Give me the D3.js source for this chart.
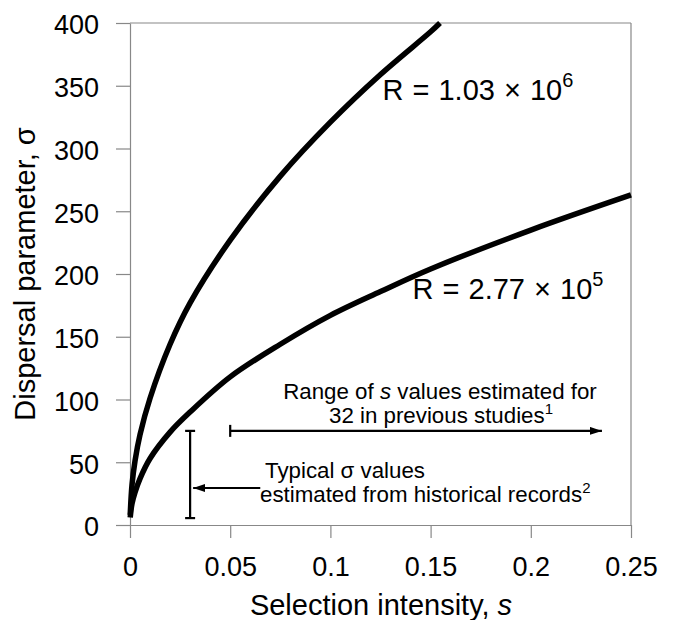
<!DOCTYPE html>
<html>
<head>
<meta charset="utf-8">
<script src="https://cdn.jsdelivr.net/npm/d3@7"></script>
<style>
  body { margin: 0; background: #fff; overflow: hidden; }
  svg { display: block; font-family: "Liberation Sans", Arial, Helvetica, sans-serif; }
</style>
</head>
<body>
<svg></svg>
<script>
// curve, R = 1.03 x 10^6
const sHigh = [0.0001, 0.001, 0.0025, 0.005, 0.01, 0.02, 0.03, 0.05, 0.075, 0.1, 0.125, 0.15, 0.1547];
const sigmaHigh = [8, 32, 51, 72, 101, 144, 177, 227, 278, 321, 359, 393, 400];

// curve, R = 2.77 x 10^5
const sLow = [0.0001, 0.001, 0.0025, 0.005, 0.01, 0.02, 0.03, 0.05, 0.075, 0.1, 0.125, 0.15, 0.2, 0.25];
const sigmaLow = [6, 17, 26, 37, 53, 74, 90, 118, 144, 167, 186, 204, 235, 263];

const xTicks = [0, 0.05, 0.1, 0.15, 0.2, 0.25];
const yTicks = [0, 50, 100, 150, 200, 250, 300, 350, 400];

// annotations
const typicalS = 0.03;
const typicalSigma = [5.5, 75];
const typicalArrowS = [0.065, 0.0315];
const typicalArrowSigma = 29.5;
const rangeS = [0.05, 0.2355];
const rangeSigma = 75;

const width = 676, height = 620;
const margin = { top: 23, right: 45, bottom: 95, left: 130 };
const innerWidth = width - margin.left - margin.right;
const innerHeight = height - margin.top - margin.bottom;

const svg = d3.select('svg').attr('width', width).attr('height', height);

const defs = svg.append('defs');
defs.append('marker').attr('id', 'head')
  .attr('viewBox', '0 0 12 8').attr('refX', 12).attr('refY', 4)
  .attr('markerWidth', 12).attr('markerHeight', 8)
  .attr('markerUnits', 'userSpaceOnUse').attr('orient', 'auto')
  .append('path').attr('d', 'M0,0L12,4L0,8Z').attr('fill', '#000');

const g = svg.append('g').attr('transform', `translate(${margin.left},${margin.top})`);

const x = d3.scaleLinear().domain([0, 0.25]).range([0, innerWidth]);
const y = d3.scaleLinear().domain([0, 400]).range([innerHeight, 0]);

const axisColor = '#888';

// frame: top and right
g.append('line').attr('x1', 0).attr('x2', innerWidth).attr('y1', 0).attr('y2', 0)
  .attr('stroke', axisColor).attr('stroke-width', 1.2);
g.append('line').attr('x1', innerWidth).attr('x2', innerWidth).attr('y1', 0).attr('y2', innerHeight)
  .attr('stroke', axisColor).attr('stroke-width', 1.2);

const xAxis = d3.axisBottom(x).tickValues(xTicks).tickFormat(d3.format('~g'))
  .tickSize(13).tickSizeOuter(0).tickPadding(19);
const yAxis = d3.axisLeft(y).tickValues(yTicks).tickFormat(d3.format('d'))
  .tickSize(14).tickSizeOuter(0).tickPadding(17);

const gx = g.append('g').attr('transform', `translate(0,${innerHeight})`).call(xAxis);
const gy = g.append('g').call(yAxis);
[gx, gy].forEach(a => {
  a.attr('font-size', 27).attr('font-family', '"Liberation Sans", Arial, sans-serif');
  a.select('.domain').attr('stroke', axisColor).attr('stroke-width', 1.2);
  a.selectAll('.tick line').attr('stroke', axisColor).attr('stroke-width', 1.2);
  a.selectAll('.tick text').attr('fill', '#000');
});
gy.selectAll('.tick text').attr('dy', '0.4em');

// curves
const line = d3.line().x(d => x(d[0])).y(d => y(d[1])).curve(d3.curveCatmullRom.alpha(0.5));
[[sHigh, sigmaHigh], [sLow, sigmaLow]].forEach(([ss, sig]) => {
  g.append('path').datum(ss.map((s, i) => [s, sig[i]]))
    .attr('d', line).attr('fill', 'none').attr('stroke', '#000').attr('stroke-width', 5.5);
});

// curve labels
const rLabel = (xp, yp, mant, exp) => {
  const t = g.append('text').attr('x', xp).attr('y', yp).attr('font-size', 29)
    .attr('word-spacing', 1);
  t.append('tspan').text(`R = ${mant} \u00d7 10`);
  t.append('tspan').attr('font-size', 20).attr('dy', -13).text(exp);
};
rLabel(x(0.126), y(339), '1.03', '6');
rLabel(x(0.141), y(180), '2.77', '5');

// typical sigma bar
const bx = x(typicalS);
g.append('line').attr('x1', bx).attr('x2', bx).attr('y1', y(typicalSigma[0])).attr('y2', y(typicalSigma[1]))
  .attr('stroke', '#000').attr('stroke-width', 2.2);
typicalSigma.forEach(v => {
  g.append('line').attr('x1', bx - 5).attr('x2', bx + 5).attr('y1', y(v)).attr('y2', y(v))
    .attr('stroke', '#000').attr('stroke-width', 2.2);
});
g.append('line').attr('x1', x(typicalArrowS[0])).attr('x2', x(typicalArrowS[1]))
  .attr('y1', y(typicalArrowSigma)).attr('y2', y(typicalArrowSigma))
  .attr('stroke', '#000').attr('stroke-width', 2.2).attr('marker-end', 'url(#head)');

// range of s bar
g.append('line').attr('x1', x(rangeS[0])).attr('x2', x(rangeS[1]))
  .attr('y1', y(rangeSigma)).attr('y2', y(rangeSigma))
  .attr('stroke', '#000').attr('stroke-width', 2.2).attr('marker-end', 'url(#head)');
g.append('line').attr('x1', x(rangeS[0])).attr('x2', x(rangeS[0]))
  .attr('y1', y(rangeSigma) - 6).attr('y2', y(rangeSigma) + 6)
  .attr('stroke', '#000').attr('stroke-width', 2.2);

// annotation texts
const noteSize = 22.3;
const r1 = g.append('text').attr('x', 440 - margin.left).attr('y', 399 - margin.top)
  .attr('text-anchor', 'middle').attr('font-size', noteSize);
r1.append('tspan').text('Range of ');
r1.append('tspan').attr('font-style', 'italic').text('s');
r1.append('tspan').text(' values estimated for');
const r2 = g.append('text').attr('x', 441 - margin.left).attr('y', 423 - margin.top)
  .attr('text-anchor', 'middle').attr('font-size', noteSize);
r2.append('tspan').text('32 in previous studies');
r2.append('tspan').attr('font-size', 15).attr('dy', -9).text('1');

g.append('text').attr('x', 265 - margin.left).attr('y', 478 - margin.top)
  .attr('font-size', noteSize).text('Typical \u03c3 values');
const t2 = g.append('text').attr('x', 260 - margin.left).attr('y', 502 - margin.top)
  .attr('font-size', noteSize);
t2.append('tspan').text('estimated from historical records');
t2.append('tspan').attr('font-size', 15).attr('dy', -9).text('2');

// axis titles
const xt = svg.append('text').attr('x', 381).attr('y', 615).attr('text-anchor', 'middle')
  .attr('font-size', 29);
xt.append('tspan').text('Selection intensity, ');
xt.append('tspan').attr('font-style', 'italic').text('s');

svg.append('text').attr('transform', 'translate(35,274) rotate(-90)')
  .attr('text-anchor', 'middle').attr('font-size', 29).text('Dispersal parameter, \u03c3');
</script>
</body>
</html>
